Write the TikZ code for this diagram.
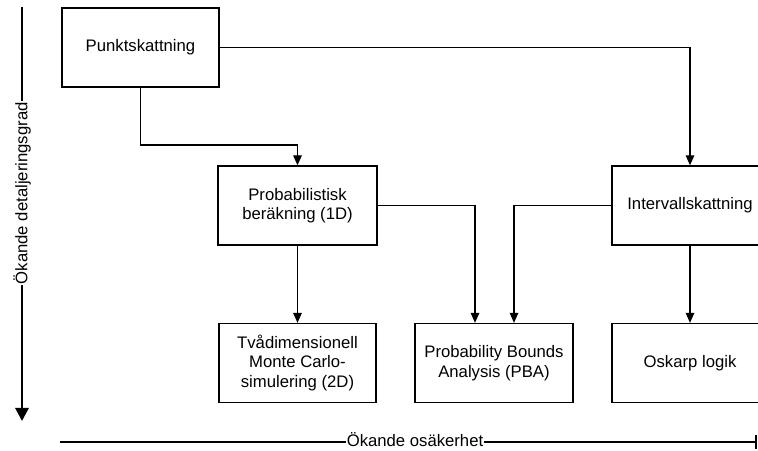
\documentclass[tikz,border=0pt]{standalone}
\usepackage{fontspec}
\setmainfont{Liberation Sans}
\usetikzlibrary{arrows.meta}
\begin{document}
\begin{tikzpicture}[x=1pt,y=1pt,
  box/.style={draw=black,line width=1.3pt,minimum width=157pt,minimum height=79pt,
    align=center,inner sep=2pt,font=\fontsize{16.7}{19.5}\selectfont},
  conn/.style={draw=black,line width=1.3pt,-{Triangle[width=8.5pt,length=10pt]}},
  axis/.style={draw=black,line width=2.8pt},
  axlabel/.style={fill=white,inner sep=1pt,font=\fontsize{16.7}{19.5}\selectfont}]
\clip (0,0) rectangle (758,450);
\node[box] (punkt) at (140.5,402.5) {Punktskattning};
\node[box,minimum width=159pt] (prob) at (297.5,244.5) {Probabilistisk\\beräkning (1D)};
\node[box] (two) at (297.5,87) {Tvådimensionell\\Monte Carlo-\\simulering (2D)};
\node[box,minimum width=158pt] (pba) at (494,87) {Probability Bounds\\Analysis (PBA)};
\node[box,minimum width=156pt] (int) at (690,244.5) {Intervallskattning};
\node[box,minimum width=156pt] (osk) at (690,87) {Oskarp logik};
\coordinate (ptop) at (22,443);
\coordinate (pbot) at (22,29);
\coordinate (bl) at (60,8);
\coordinate (br) at (757,8);
\draw[conn] (punkt.south) |- (297.5,305) -- (prob.north);
\draw[conn] (punkt.east) -| (int.north);
\draw[conn] (prob.east) -| ([xshift=-19pt]pba.north);
\draw[conn] (int.west) -| ([xshift=20pt]pba.north);
\draw[conn] (prob.south) -- (two.north);
\draw[conn] (int.south) -- (osk.north);
\draw[axis,-{Triangle[width=13pt,length=13pt]}] (ptop) -- (pbot)
  node[axlabel,pos=0.45,rotate=90] (ylab) {Ökande detaljeringsgrad};
\draw[axis,-{Bar[width=13pt,line width=2pt]}] (bl) -- (br);
\node[axlabel,anchor=base,text depth=0pt] (xlab) at (415,3.5) {Ökande osäkerhet};
\end{tikzpicture}
\end{document}
